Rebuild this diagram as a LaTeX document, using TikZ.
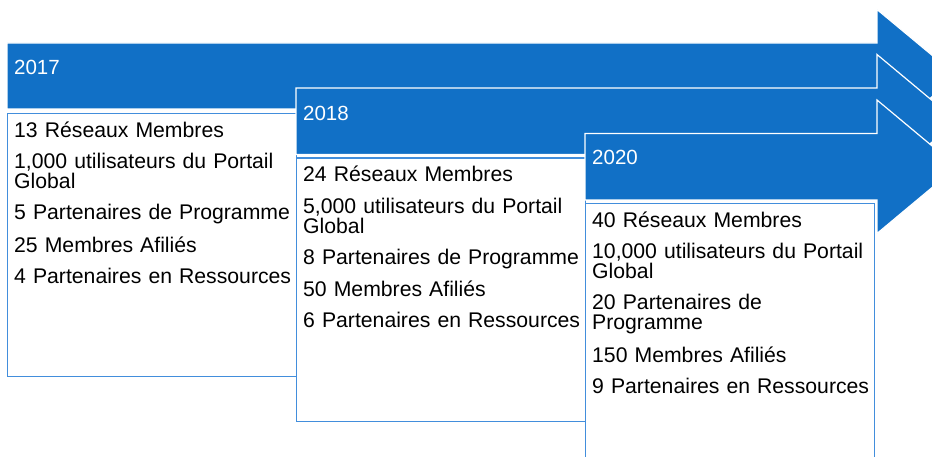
\documentclass[tikz,border=0pt]{standalone}
\usepackage{fontspec}
\setmainfont{Liberation Sans}
\usetikzlibrary{positioning}
\definecolor{bandblue}{RGB}{17,112,198}
\definecolor{edgeblue}{RGB}{66,142,220}
\tikzset{band/.style={fill=bandblue,draw=white,line width=1.2pt,line join=miter},
         list box/.style={rectangle,draw=edgeblue,line width=1.4pt,fill=white,minimum width=288.5pt,minimum height=263pt,inner sep=0pt,anchor=north west},
         year label/.style={text=white,font=\fontsize{20.5}{24}\selectfont,anchor=base west,inner sep=0pt},
         list text/.style={text=black,font=\fontsize{21.2}{20}\selectfont,align=left,text width=282pt,anchor=base west,inner sep=0pt},
}

\begin{document}
\begin{tikzpicture}[x=1pt,y=-1pt]

\useasboundingbox (0,0) rectangle (932,457);
\clip (0,0) rectangle (932,457);

% 2017
\filldraw[band] (7,43) -- (877,43) -- (877,9.5) -- (957,76) -- (877,142.5) -- (877,109) -- (7,109) -- cycle;
\node[year label] (y2017) at (14,75) {2017};
\node[list box] (box2017) at (7,113) {};
\node[list text] (list2017) at ([xshift=7pt,yshift=-24.5pt]box2017.north west)
    {13 Réseaux Membres\\[11.5pt]
     1,000 utilisateurs du Portail\\ Global\\[11pt]
     5 Partenaires de Programme\\[11pt]
     25 Membres Afiliés\\[11pt]
     4 Partenaires en Ressources};

% 2018
\filldraw[band] (296,88) -- (877,88) -- (877,54.5) -- (957,121.25) -- (877,188) -- (877,154.5) -- (296,154.5) -- cycle;
\node[year label] (y2018) at (303,120.7) {2018};
\node[list box] (box2018) at (296,157.5) {};
\node[list text] (list2018) at ([xshift=7pt,yshift=-24.5pt]box2018.north west)
    {24 Réseaux Membres\\[11.5pt]
     5,000 utilisateurs du Portail\\ Global\\[11pt]
     8 Partenaires de Programme\\[11pt]
     50 Membres Afiliés\\[11pt]
     6 Partenaires en Ressources};

% 2020
\filldraw[band] (585,133.5) -- (877,133.5) -- (877,100) -- (957,166.75) -- (877,233.5) -- (877,200) -- (585,200) -- cycle;
\node[year label] (y2020) at (592,165) {2020};
\node[list box] (box2020) at (585,203) {};
\node[list text] (list2020) at ([xshift=7pt,yshift=-24.5pt]box2020.north west)
    {40 Réseaux Membres\\[11.5pt]
     10,000 utilisateurs du Portail\\ Global\\[11pt]
     20 Partenaires de\\ Programme\\[11pt]
     150 Membres Afiliés\\[11pt]
     9 Partenaires en Ressources};

\end{tikzpicture}
\end{document}
